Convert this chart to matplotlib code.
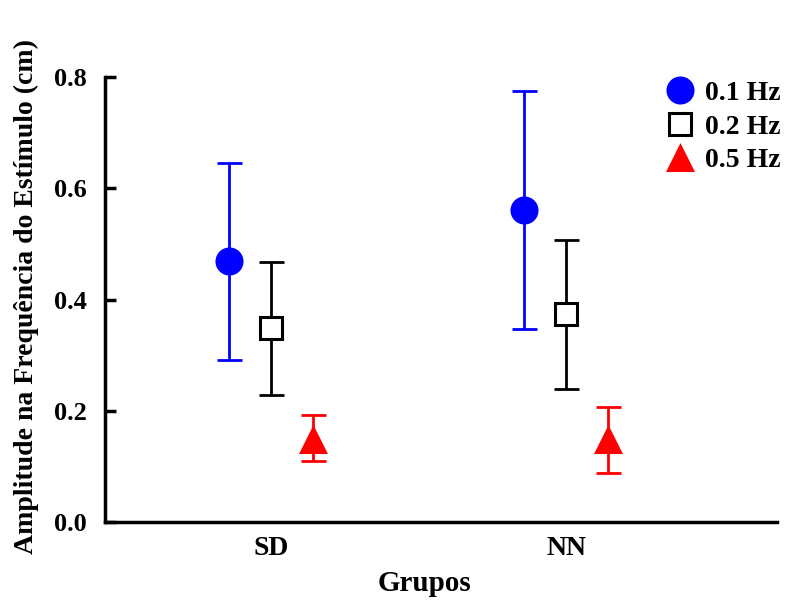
import matplotlib
matplotlib.use("Agg")
import matplotlib.pyplot as plt
import numpy as np

groups = ["SD", "NN"]
freq_labels = ["0.1 Hz", "0.2 Hz", "0.5 Hz"]
means_01 = [0.469, 0.561]
upper_01 = [0.645, 0.775]
lower_01 = [0.291, 0.347]
means_02 = [0.349, 0.374]
upper_02 = [0.467, 0.507]
lower_02 = [0.228, 0.239]
means_05 = [0.147, 0.147]
upper_05 = [0.192, 0.207]
lower_05 = [0.110, 0.088]

plt.rcParams["font.family"] = ["Liberation Serif", "DejaVu Serif"]
plt.rcParams["font.weight"] = "bold"

fig = plt.figure(figsize=(7.92, 6.01), dpi=100)
ax = fig.add_axes([0.1326, 0.1314, 0.8485, 0.7405])

x = np.arange(1, len(groups) + 1)
offset = 0.143
series = [
    (means_01, upper_01, lower_01, "o", "#0000ff", "#0000ff", 18),
    (means_02, upper_02, lower_02, "s", "white", "black", 16),
    (means_05, upper_05, lower_05, "^", "#ff0000", "#ff0000", 17),
]
handles = []
for i, (m, up, lo, mk, fc, ec, ms) in enumerate(series):
    m = np.array(m)
    yerr = [m - np.array(lo), np.array(up) - m]
    ax.errorbar(x + (i - 1) * offset, m, yerr=yerr, fmt="none",
                ecolor=ec, elinewidth=2.0, capsize=9, capthick=2.0, zorder=2)
    h, = ax.plot(x + (i - 1) * offset, m, linestyle="none", marker=mk, markersize=ms,
                 markerfacecolor=fc, markeredgecolor=ec, markeredgewidth=2.2, zorder=3,
                 label=freq_labels[i])
    handles.append(h)

ax.set_xlim(0.437, 2.715)
ax.set_ylim(0, 0.8)
ax.set_yticks([0.0, 0.2, 0.4, 0.6, 0.8])
ax.set_yticklabels(["0.0", "0.2", "0.4", "0.6", "0.8"])
ax.set_xticks(x)
ax.set_xticklabels(groups)
ax.tick_params(axis="x", length=0, pad=10, labelsize=20)
ax.tick_params(axis="y", direction="in", length=8, width=2.5, pad=13, labelsize=19)
for side in ["top", "right"]:
    ax.spines[side].set_visible(False)
for side in ["left", "bottom"]:
    ax.spines[side].set_linewidth(2.5)

ax.set_xlabel("Grupos", fontsize=21, fontweight="bold")
ax.xaxis.set_label_coords(0.475, -0.108)
ax.set_ylabel("Amplitude na Frequência do Estímulo (cm)", fontsize=20,
              fontweight="bold")
ax.yaxis.set_label_coords(-0.098, 0.506)

leg = ax.legend(handles=handles, loc="upper right", bbox_to_anchor=(1.03, 1.03),
                frameon=False, fontsize=20, handletextpad=0.33, labelspacing=0.3,
                handlelength=1.1, borderaxespad=0.2)
for t in leg.get_texts():
    t.set_fontweight("bold")

fig.savefig("out.png", dpi=100)
